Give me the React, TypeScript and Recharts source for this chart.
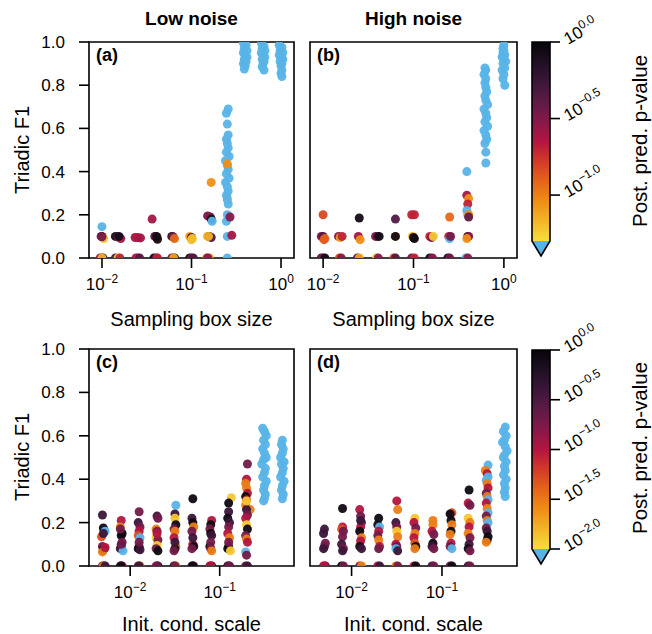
import { ReferenceArea, Scatter, ScatterChart, XAxis, YAxis } from 'recharts';

const FONT = '"Liberation Sans", Arial, Helvetica, sans-serif';
const BLUE = '#59b3e7';

// colour map from low p (t=0, yellow) to high p (t=1, black)
const CMAP: [number, string][] = [
  [0, '#f6df3c'],
  [0.1, '#f3b52a'],
  [0.2, '#ef8d15'],
  [0.3, '#e5641a'],
  [0.4, '#d23a27'],
  [0.5, '#b31540'],
  [0.6, '#87184a'],
  [0.7, '#5e1b46'],
  [0.8, '#3b1639'],
  [0.9, '#1f1023'],
  [1, '#060509'],
];

const TITLES = ['Low noise', 'High noise'];
const PANEL_LETTERS = ['(a)', '(b)', '(c)', '(d)'];
const Y_TICKS = [0, 0.2, 0.4, 0.6, 0.8, 1.0];
const BOX_TICKS = [0.01, 0.1, 1];
const INIT_TICKS = [0.01, 0.1];
const BOX_DOMAIN = [10 ** -2.145, 10 ** 0.145];
const INIT_DOMAIN = [10 ** -2.46, 10 ** -0.17];
// colour bar ranges, log10 p
const CB_TOP_TICKS = [0, -0.5, -1.0];
const CB_BOTTOM_TICKS = [0, -0.5, -1.0, -1.5, -2.0];
const CB_TOP_MIN = -1.3;
const CB_BOTTOM_MIN = -2;

// [log10 x, triadic F1, p-value]
const A_PTS: [number, number, number][] = [
  [-2.02, 0, 0.3], [-1.99, 0, 0.85], [-2.0, 0, 0.07],
  [-2.01, 0.1, 0.3], [-1.99, 0.095, 0.07], [-2.0, 0.1, 0.45], [-1.98, 0.09, 0.06], [-2.0, 0.098, 0.35],
  [-2.0, 0.145, 0.02],
  [-1.85, 0, 0.45], [-1.82, 0, 0.06], [-1.8, 0, 0.2],
  [-1.85, 0.1, 0.85], [-1.82, 0.097, 0.4], [-1.79, 0.09, 0.25], [-1.81, 0.1, 0.85],
  [-1.62, 0, 0.25], [-1.6, 0, 0.2], [-1.58, 0, 0.45],
  [-1.63, 0.095, 0.25], [-1.6, 0.095, 0.22], [-1.57, 0.093, 0.25],
  [-1.42, 0, 0.85], [-1.39, 0, 0.3], [-1.38, 0, 0.2],
  [-1.44, 0.18, 0.25],
  [-1.41, 0.1, 0.45], [-1.38, 0.095, 0.07], [-1.4, 0.1, 0.35], [-1.39, 0.1, 0.85], [-1.38, 0.087, 0.85],
  [-1.22, 0, 0.35], [-1.19, 0, 0.85], [-1.2, 0, 0.08],
  [-1.22, 0.1, 0.85], [-1.2, 0.095, 0.08], [-1.21, 0.1, 0.4], [-1.19, 0.09, 0.12],
  [-1.02, 0, 0.85], [-1.0, 0, 0.35], [-0.98, 0, 0.45],
  [-1.02, 0.1, 0.08], [-1.0, 0.095, 0.45], [-0.99, 0.09, 0.06], [-1.0, 0.085, 0.065],
  [-0.83, 0, 0.1], [-0.8, 0, 0.09], [-0.82, 0, 0.3],
  [-0.82, 0.1, 0.08], [-0.8, 0.1, 0.85], [-0.78, 0.095, 0.45], [-0.81, 0.1, 0.07],
  [-0.82, 0.195, 0.35], [-0.79, 0.19, 0.3], [-0.78, 0.18, 0.85], [-0.77, 0.17, 0.02],
  [-0.78, 0.35, 0.09],
  [-0.6, 0, 0.02], [-0.6, 0.1, 0.02], [-0.61, 0.17, 0.02], [-0.6, 0.2, 0.02], [-0.59, 0.25, 0.02],
  [-0.6, 0.28, 0.06], [-0.55, 0.105, 0.25], [-0.57, 0.19, 0.3],
  [-0.6, 0.27, 0.02], [-0.61, 0.29, 0.02], [-0.59, 0.31, 0.02], [-0.6, 0.33, 0.02], [-0.62, 0.35, 0.02],
  [-0.58, 0.37, 0.02], [-0.61, 0.39, 0.02], [-0.59, 0.41, 0.02], [-0.6, 0.43, 0.02], [-0.62, 0.45, 0.02],
  [-0.58, 0.47, 0.02], [-0.61, 0.49, 0.02], [-0.59, 0.51, 0.02], [-0.6, 0.53, 0.02], [-0.61, 0.55, 0.02],
  [-0.59, 0.57, 0.02], [-0.6, 0.62, 0.02], [-0.61, 0.67, 0.02], [-0.59, 0.69, 0.02],
  [-0.6, 0.435, 0.09],
  [-0.42, 0.995, 0.02], [-0.39, 0.985, 0.02], [-0.41, 0.97, 0.02], [-0.38, 0.96, 0.02], [-0.42, 0.95, 0.02],
  [-0.4, 0.94, 0.02], [-0.38, 0.93, 0.02], [-0.41, 0.92, 0.02], [-0.39, 0.91, 0.02], [-0.42, 0.9, 0.02],
  [-0.4, 0.89, 0.02], [-0.41, 0.875, 0.02],
  [-0.22, 0.995, 0.02], [-0.19, 0.98, 0.02], [-0.21, 0.97, 0.02], [-0.18, 0.96, 0.02], [-0.22, 0.95, 0.02],
  [-0.2, 0.94, 0.02], [-0.18, 0.93, 0.02], [-0.21, 0.92, 0.02], [-0.19, 0.91, 0.02], [-0.2, 0.9, 0.02],
  [-0.21, 0.885, 0.02], [-0.19, 0.87, 0.02],
  [-0.02, 0.985, 0.02], [0.01, 0.975, 0.02], [-0.01, 0.96, 0.02], [0.02, 0.95, 0.02], [-0.02, 0.94, 0.02],
  [0.0, 0.93, 0.02], [0.02, 0.92, 0.02], [-0.01, 0.91, 0.02], [0.01, 0.9, 0.02], [0.0, 0.89, 0.02],
  [0.01, 0.87, 0.02], [0.0, 0.855, 0.02], [0.01, 0.84, 0.02],
];

const B_PTS: [number, number, number][] = [
  [-2.02, 0, 0.45], [-2.0, 0, 0.3], [-1.98, 0, 0.85],
  [-2.0, 0.2, 0.15],
  [-2.02, 0.1, 0.3], [-2.0, 0.1, 0.45], [-1.98, 0.09, 0.12], [-1.99, 0.085, 0.13],
  [-1.82, 0, 0.13], [-1.8, 0, 0.3],
  [-1.83, 0.1, 0.3], [-1.81, 0.095, 0.08], [-1.79, 0.1, 0.2],
  [-1.62, 0, 0.45], [-1.6, 0, 0.08],
  [-1.6, 0.185, 0.85], [-1.61, 0.1, 0.25], [-1.59, 0.085, 0.09],
  [-1.41, 0, 0.06], [-1.39, 0, 0.3],
  [-1.42, 0.1, 0.3], [-1.4, 0.1, 0.45], [-1.38, 0.1, 0.85],
  [-1.22, 0, 0.13], [-1.2, 0, 0.45],
  [-1.2, 0.18, 0.45], [-1.2, 0.1, 0.07], [-1.2, 0.1, 0.85],
  [-1.02, 0, 0.35], [-0.99, 0, 0.2],
  [-1.02, 0.2, 0.2], [-0.99, 0.2, 0.2],
  [-1.01, 0.1, 0.07], [-1.0, 0.095, 0.85], [-0.99, 0.09, 0.85],
  [-0.82, 0, 0.85], [-0.79, 0, 0.3],
  [-0.82, 0.1, 0.2], [-0.8, 0.095, 0.3], [-0.78, 0.1, 0.06],
  [-0.62, 0, 0.85], [-0.6, 0, 0.35],
  [-0.6, 0.19, 0.12], [-0.61, 0.1, 0.2], [-0.6, 0.09, 0.02], [-0.59, 0.1, 0.35],
  [-0.42, 0, 0.02], [-0.4, 0, 0.3],
  [-0.4, 0.1, 0.85], [-0.39, 0.1, 0.3], [-0.41, 0.09, 0.09],
  [-0.41, 0.29, 0.25], [-0.39, 0.275, 0.09], [-0.4, 0.25, 0.2], [-0.41, 0.22, 0.02], [-0.4, 0.2, 0.02],
  [-0.39, 0.2, 0.09], [-0.39, 0.19, 0.4], [-0.41, 0.4, 0.02],
  [-0.2, 0.44, 0.02], [-0.2, 0.49, 0.02], [-0.21, 0.53, 0.02], [-0.19, 0.55, 0.02], [-0.2, 0.57, 0.02],
  [-0.22, 0.59, 0.02], [-0.18, 0.61, 0.02], [-0.21, 0.63, 0.02], [-0.19, 0.65, 0.02], [-0.2, 0.67, 0.02],
  [-0.22, 0.69, 0.02], [-0.18, 0.71, 0.02], [-0.2, 0.73, 0.02], [-0.21, 0.75, 0.02], [-0.19, 0.77, 0.02],
  [-0.2, 0.79, 0.02], [-0.21, 0.81, 0.02], [-0.2, 0.83, 0.02], [-0.22, 0.85, 0.02], [-0.2, 0.87, 0.02],
  [-0.21, 0.88, 0.02],
  [0.01, 0.8, 0.02], [-0.01, 0.83, 0.02], [0.0, 0.85, 0.02], [-0.02, 0.87, 0.02], [0.01, 0.88, 0.02],
  [-0.01, 0.9, 0.02], [0.02, 0.91, 0.02], [0.0, 0.92, 0.02], [-0.02, 0.93, 0.02], [0.01, 0.94, 0.02],
  [-0.01, 0.95, 0.02], [0.0, 0.96, 0.02], [-0.01, 0.97, 0.02], [0.0, 0.985, 0.02],
];

const C_PTS: [number, number, number][] = [
  [-2.31, 0, 0.2], [-2.29, 0, 0.85], [-2.3, 0, 0.03], [-2.28, 0, 0.4],
  [-2.31, 0.235, 0.4], [-2.3, 0.175, 0.85], [-2.28, 0.16, 0.005], [-2.32, 0.135, 0.05], [-2.3, 0.15, 0.4],
  [-2.31, 0.09, 0.2], [-2.29, 0.08, 0.4], [-2.3, 0.075, 0.85], [-2.31, 0.065, 0.03], [-2.28, 0.085, 0.1],
  [-2.11, 0, 0.4], [-2.09, 0, 0.1], [-2.1, 0, 0.85],
  [-2.1, 0.21, 0.1], [-2.11, 0.18, 0.03], [-2.09, 0.15, 0.85], [-2.1, 0.14, 0.85], [-2.11, 0.17, 0.2],
  [-2.09, 0.11, 0.2], [-2.1, 0.09, 0.85], [-2.11, 0.08, 0.4], [-2.08, 0.07, 0.005], [-2.1, 0.1, 0.2],
  [-1.91, 0, 0.2], [-1.89, 0, 0.03], [-1.9, 0, 0.4],
  [-1.9, 0.25, 0.2], [-1.91, 0.2, 0.4], [-1.89, 0.18, 0.2], [-1.9, 0.16, 0.1], [-1.91, 0.14, 0.05],
  [-1.89, 0.13, 0.005], [-1.9, 0.09, 0.2], [-1.91, 0.08, 0.85], [-1.89, 0.075, 0.4], [-1.9, 0.11, 0.2],
  [-1.71, 0, 0.1], [-1.69, 0, 0.85], [-1.7, 0, 0.2],
  [-1.7, 0.23, 0.4], [-1.69, 0.22, 0.2], [-1.71, 0.17, 0.03], [-1.7, 0.16, 0.2], [-1.71, 0.13, 0.013],
  [-1.69, 0.12, 0.2], [-1.7, 0.095, 0.013], [-1.71, 0.08, 0.2], [-1.69, 0.07, 0.85], [-1.7, 0.15, 0.1],
  [-1.51, 0, 0.85], [-1.49, 0, 0.03], [-1.5, 0, 0.2],
  [-1.49, 0.28, 0.005], [-1.5, 0.24, 0.4], [-1.5, 0.22, 0.013], [-1.49, 0.19, 0.85], [-1.51, 0.17, 0.2],
  [-1.5, 0.16, 0.03], [-1.51, 0.13, 0.1], [-1.49, 0.09, 0.03], [-1.5, 0.08, 0.85], [-1.51, 0.07, 0.2],
  [-1.5, 0.11, 0.4],
  [-1.31, 0, 0.4], [-1.29, 0, 0.2], [-1.3, 0, 0.85],
  [-1.3, 0.31, 0.85], [-1.31, 0.22, 0.4], [-1.3, 0.2, 0.85], [-1.29, 0.18, 0.03], [-1.31, 0.16, 0.2],
  [-1.3, 0.1, 0.1], [-1.29, 0.09, 0.85], [-1.31, 0.08, 0.2], [-1.3, 0.13, 0.4],
  [-1.11, 0, 0.2], [-1.09, 0, 0.85], [-1.1, 0, 0.1],
  [-1.09, 0.21, 0.1], [-1.1, 0.19, 0.85], [-1.11, 0.17, 0.2], [-1.1, 0.15, 0.85], [-1.09, 0.14, 0.4],
  [-1.11, 0.09, 0.85], [-1.1, 0.08, 0.2], [-1.09, 0.07, 0.03], [-1.1, 0.11, 0.2],
  [-0.91, 0, 0.85], [-0.89, 0, 0.4], [-0.9, 0, 0.2],
  [-0.87, 0.315, 0.013], [-0.9, 0.29, 0.85], [-0.9, 0.25, 0.4], [-0.91, 0.22, 0.85], [-0.89, 0.2, 0.4],
  [-0.9, 0.18, 0.2], [-0.91, 0.15, 0.1], [-0.89, 0.13, 0.03], [-0.9, 0.09, 0.4], [-0.91, 0.08, 0.85],
  [-0.88, 0.07, 0.013], [-0.9, 0.11, 0.2],
  [-0.71, 0, 0.2], [-0.69, 0, 0.4],
  [-0.69, 0.47, 0.2], [-0.7, 0.4, 0.1], [-0.71, 0.38, 0.03], [-0.7, 0.36, 0.03], [-0.69, 0.335, 0.1],
  [-0.71, 0.32, 0.85], [-0.7, 0.305, 0.1], [-0.71, 0.28, 0.03], [-0.66, 0.26, 0.03], [-0.7, 0.26, 0.4],
  [-0.69, 0.235, 0.2], [-0.71, 0.22, 0.1], [-0.7, 0.19, 0.013], [-0.69, 0.17, 0.85], [-0.71, 0.14, 0.2],
  [-0.7, 0.125, 0.03], [-0.69, 0.11, 0.1], [-0.71, 0.065, 0.005], [-0.7, 0.05, 0.2], [-0.7, 0.3, 0.013],
  [-0.52, 0.635, 0.005], [-0.5, 0.62, 0.005], [-0.48, 0.6, 0.005], [-0.51, 0.58, 0.005], [-0.49, 0.56, 0.005],
  [-0.52, 0.54, 0.005], [-0.5, 0.52, 0.005], [-0.48, 0.5, 0.005], [-0.51, 0.49, 0.005], [-0.53, 0.47, 0.005],
  [-0.49, 0.45, 0.005], [-0.5, 0.43, 0.005], [-0.52, 0.41, 0.005], [-0.48, 0.39, 0.005], [-0.5, 0.37, 0.005],
  [-0.51, 0.35, 0.005], [-0.49, 0.33, 0.005], [-0.5, 0.31, 0.005], [-0.51, 0.3, 0.005],
  [-0.3, 0.58, 0.005], [-0.31, 0.56, 0.005], [-0.29, 0.54, 0.005], [-0.3, 0.52, 0.005], [-0.32, 0.5, 0.005],
  [-0.28, 0.48, 0.005], [-0.31, 0.47, 0.005], [-0.29, 0.45, 0.005], [-0.3, 0.43, 0.005], [-0.32, 0.41, 0.005],
  [-0.28, 0.39, 0.005], [-0.3, 0.37, 0.005], [-0.31, 0.35, 0.005], [-0.29, 0.33, 0.005], [-0.3, 0.31, 0.005],
];

const D_PTS: [number, number, number][] = [
  [-2.31, 0, 0.2], [-2.29, 0, 0.4], [-2.3, 0, 0.1],
  [-2.3, 0.17, 0.4], [-2.31, 0.15, 0.4], [-2.29, 0.105, 0.2], [-2.3, 0.09, 0.2], [-2.31, 0.08, 0.4],
  [-2.11, 0, 0.85], [-2.09, 0, 0.2],
  [-2.1, 0.265, 0.85], [-2.1, 0.18, 0.1], [-2.11, 0.17, 0.05], [-2.09, 0.16, 0.2], [-2.1, 0.135, 0.2],
  [-2.11, 0.1, 0.4], [-2.09, 0.08, 0.2], [-2.1, 0.07, 0.4],
  [-1.91, 0, 0.2], [-1.89, 0, 0.03],
  [-1.91, 0.26, 0.1], [-1.9, 0.23, 0.2], [-1.89, 0.2, 0.2], [-1.9, 0.18, 0.1], [-1.91, 0.16, 0.85],
  [-1.89, 0.13, 0.03], [-1.9, 0.115, 0.1], [-1.91, 0.09, 0.85], [-1.89, 0.08, 0.4], [-1.9, 0.21, 0.4],
  [-1.71, 0, 0.1], [-1.69, 0, 0.4],
  [-1.7, 0.22, 0.85], [-1.71, 0.19, 0.85], [-1.69, 0.18, 0.005], [-1.7, 0.16, 0.1], [-1.71, 0.14, 0.2],
  [-1.7, 0.12, 0.03], [-1.69, 0.09, 0.1], [-1.7, 0.08, 0.2],
  [-1.51, 0, 0.03], [-1.49, 0, 0.2],
  [-1.5, 0.3, 0.1], [-1.49, 0.26, 0.03], [-1.51, 0.2, 0.4], [-1.5, 0.18, 0.2], [-1.5, 0.16, 0.013],
  [-1.49, 0.135, 0.03], [-1.51, 0.1, 0.1], [-1.5, 0.09, 0.2], [-1.51, 0.08, 0.005], [-1.49, 0.07, 0.4],
  [-1.31, 0, 0.1], [-1.29, 0, 0.85],
  [-1.3, 0.22, 0.013], [-1.31, 0.2, 0.1], [-1.29, 0.175, 0.2], [-1.3, 0.15, 0.03], [-1.31, 0.13, 0.1],
  [-1.3, 0.105, 0.05], [-1.29, 0.09, 0.85], [-1.3, 0.08, 0.03],
  [-1.11, 0, 0.4], [-1.09, 0, 0.2],
  [-1.1, 0.21, 0.03], [-1.1, 0.19, 0.03], [-1.11, 0.16, 0.1], [-1.09, 0.145, 0.2], [-1.1, 0.105, 0.85],
  [-1.11, 0.09, 0.4], [-1.09, 0.08, 0.2],
  [-0.91, 0, 0.2], [-0.89, 0, 0.85],
  [-0.89, 0.245, 0.05], [-0.91, 0.24, 0.85], [-0.9, 0.21, 0.85], [-0.89, 0.19, 0.03], [-0.9, 0.16, 0.85],
  [-0.91, 0.145, 0.03], [-0.9, 0.105, 0.1], [-0.91, 0.09, 0.2], [-0.89, 0.08, 0.005],
  [-0.71, 0, 0.4], [-0.69, 0, 0.2],
  [-0.7, 0.35, 0.85], [-0.71, 0.29, 0.1], [-0.69, 0.28, 0.2], [-0.71, 0.22, 0.013], [-0.69, 0.2, 0.03],
  [-0.7, 0.18, 0.1], [-0.71, 0.15, 0.03], [-0.69, 0.13, 0.2], [-0.7, 0.1, 0.4], [-0.71, 0.08, 0.85],
  [-0.69, 0.07, 0.2],
  [-0.49, 0.465, 0.005], [-0.52, 0.44, 0.03], [-0.5, 0.425, 0.1], [-0.49, 0.41, 0.005], [-0.51, 0.395, 0.005],
  [-0.5, 0.38, 0.03], [-0.49, 0.36, 0.1], [-0.51, 0.335, 0.2], [-0.5, 0.32, 0.03], [-0.49, 0.305, 0.005],
  [-0.51, 0.29, 0.1], [-0.5, 0.265, 0.03], [-0.49, 0.245, 0.005], [-0.51, 0.23, 0.2], [-0.5, 0.21, 0.03],
  [-0.49, 0.2, 0.005], [-0.51, 0.175, 0.2], [-0.5, 0.16, 0.4], [-0.49, 0.135, 0.85], [-0.5, 0.12, 0.85],
  [-0.51, 0.11, 0.03],
  [-0.3, 0.64, 0.005], [-0.32, 0.62, 0.005], [-0.29, 0.6, 0.005], [-0.31, 0.58, 0.005], [-0.33, 0.57, 0.005],
  [-0.3, 0.55, 0.005], [-0.28, 0.53, 0.005], [-0.31, 0.51, 0.005], [-0.32, 0.5, 0.005], [-0.29, 0.48, 0.005],
  [-0.31, 0.46, 0.005], [-0.3, 0.44, 0.005], [-0.32, 0.42, 0.005], [-0.29, 0.4, 0.005], [-0.31, 0.38, 0.005],
  [-0.3, 0.36, 0.005], [-0.31, 0.34, 0.005], [-0.3, 0.32, 0.005],
];

const hexRgb = (h: string) => {
  const n = parseInt(h.slice(1), 16);
  return [(n >> 16) & 255, (n >> 8) & 255, n & 255];
};

const cmap = (t: number) => {
  const v = Math.max(0, Math.min(1, t));
  let i = 0;
  while (i < CMAP.length - 2 && v > CMAP[i + 1][0]) i++;
  const [t0, c0] = CMAP[i];
  const [t1, c1] = CMAP[i + 1];
  const f = (v - t0) / (t1 - t0);
  const a = hexRgb(c0);
  const b = hexRgb(c1);
  const m = a.map((x, k) => Math.round(x + (b[k] - x) * f));
  return `rgb(${m[0]},${m[1]},${m[2]})`;
};

const pointColor = (p: number, vmin: number) => {
  const lp = Math.log10(p);
  if (lp < vmin) return BLUE;
  return cmap((lp - vmin) / (0 - vmin));
};

const toRows = (pts: [number, number, number][], vmin: number) =>
  pts.map(([lx, y, p]) => ({ x: 10 ** lx, y, color: pointColor(p, vmin) }));

const renderDot = (props: any) => (
  <circle cx={props.cx} cy={props.cy} r={4.5} fill={props.payload.color} fillOpacity={0.95} />
);

const LogTick = (props: any) => {
  const { x, y, payload } = props;
  const e = Math.round(Math.log10(payload.value));
  return (
    <text x={x} y={y + 20} textAnchor="middle" fontSize={17} fontFamily={FONT} fill="#000">
      10
      <tspan dy={-7} fontSize={12}>
        {e < 0 ? `\u2212${-e}` : `${e}`}
      </tspan>
    </text>
  );
};

const tickLine = { stroke: '#000', strokeWidth: 1.6 };

interface PanelProps {
  rows: { x: number; y: number; color: string }[];
  left: number;
  top: number;
  height: number;
  domain: number[];
  ticks: number[];
  showY: boolean;
}

const Panel = ({ rows, left, top, height, domain, ticks, showY }: PanelProps) => (
  <div style={{ position: 'absolute', left, top }}>
    <ScatterChart
      width={showY ? 300 : 220}
      height={height}
      margin={{ top: 42, right: showY ? 6 : 3, bottom: 0, left: showY ? 0 : 10 }}
    >
      <XAxis
        dataKey="x"
        type="number"
        scale="log"
        domain={domain}
        allowDataOverflow
        ticks={ticks}
        interval={0}
        tick={<LogTick />}
        tickSize={10}
        axisLine={false}
        tickLine={tickLine}
        height={72}
      />
      <YAxis
        dataKey="y"
        type="number"
        domain={[0, 1]}
        allowDataOverflow
        ticks={Y_TICKS}
        interval={0}
        hide={!showY}
        width={89}
        tickSize={10}
        tickMargin={14}
        tickFormatter={(v: number) => v.toFixed(1)}
        tick={{ fill: '#000', fontSize: 17, fontFamily: FONT }}
        axisLine={false}
        tickLine={tickLine}
      />
      <Scatter data={rows} isAnimationActive={false} shape={renderDot} />
      <ReferenceArea
        x1={domain[0]}
        x2={domain[1]}
        y1={0}
        y2={1}
        fill="none"
        stroke="#000"
        strokeWidth={1.6}
        ifOverflow="visible"
      />
    </ScatterChart>
  </div>
);

const ColorBar = ({ id, top, bottom, vmin, ticks }: { id: string; top: number; bottom: number; vmin: number; ticks: number[] }) => {
  const x = 532;
  const w = 18;
  const h = bottom - top;
  const stops = [...CMAP].reverse();
  return (
    <g>
      <defs>
        <linearGradient id={id} x1="0" y1="0" x2="0" y2="1">
          {stops.map(([t, c]) => (
            <stop key={t} offset={1 - t} stopColor={c} />
          ))}
        </linearGradient>
      </defs>
      <rect x={x} y={top} width={w} height={h} fill={`url(#${id})`} />
      <polygon points={`${x},${bottom} ${x + w},${bottom} ${x + w / 2},${bottom + 15}`} fill={BLUE} />
      <path
        d={`M${x},${top} L${x + w},${top} L${x + w},${bottom} L${x + w / 2},${bottom + 15} L${x},${bottom} Z`}
        fill="none"
        stroke="#000"
        strokeWidth={1.6}
      />
      {ticks.map((t) => {
        const ty = top + (t / vmin) * h;
        const lab = t === 0 ? '0.0' : `\u2212${(-t).toFixed(1)}`;
        const lx = x + w + 18;
        const ly = ty + 3;
        return (
          <g key={t}>
            <line x1={x + w} x2={x + w + 10} y1={ty} y2={ty} stroke="#000" strokeWidth={1.6} />
            <text x={lx} y={ly} transform={`rotate(-30, ${lx}, ${ly})`} fontSize={17} fontFamily={FONT} fill="#000">
              10
              <tspan dy={-7} fontSize={12}>
                {lab}
              </tspan>
            </text>
          </g>
        );
      })}
    </g>
  );
};

const App = () => {
  const aRows = toRows(A_PTS, CB_TOP_MIN);
  const bRows = toRows(B_PTS, CB_TOP_MIN);
  const cRows = toRows(C_PTS, CB_BOTTOM_MIN);
  const dRows = toRows(D_PTS, CB_BOTTOM_MIN);
  return (
    <div style={{ position: 'absolute', left: 0, top: 0, width: 652, height: 634, background: '#fff', fontFamily: FONT }}>
      <Panel rows={aRows} left={0} top={0} height={330} domain={BOX_DOMAIN} ticks={BOX_TICKS} showY />
      <Panel rows={bRows} left={300} top={0} height={330} domain={BOX_DOMAIN} ticks={BOX_TICKS} showY={false} />
      <Panel rows={cRows} left={0} top={307} height={331} domain={INIT_DOMAIN} ticks={INIT_TICKS} showY />
      <Panel rows={dRows} left={300} top={307} height={331} domain={INIT_DOMAIN} ticks={INIT_TICKS} showY={false} />
      <svg
        width={652}
        height={634}
        style={{ position: 'absolute', left: 0, top: 0, pointerEvents: 'none' }}
        fontFamily={FONT}
      >
        <text x={191.5} y={25} textAnchor="middle" fontSize={19} fontWeight="bold">{TITLES[0]}</text>
        <text x={413.5} y={25} textAnchor="middle" fontSize={19} fontWeight="bold">{TITLES[1]}</text>
        <text x={96} y={61} fontSize={18} fontWeight="bold">{PANEL_LETTERS[0]}</text>
        <text x={317} y={61} fontSize={18} fontWeight="bold">{PANEL_LETTERS[1]}</text>
        <text x={96} y={368} fontSize={18} fontWeight="bold">{PANEL_LETTERS[2]}</text>
        <text x={317} y={368} fontSize={18} fontWeight="bold">{PANEL_LETTERS[3]}</text>
        <text transform="translate(29,150) rotate(-90)" textAnchor="middle" fontSize={20}>Triadic F1</text>
        <text transform="translate(29,457) rotate(-90)" textAnchor="middle" fontSize={20}>Triadic F1</text>
        <text x={191.5} y={326} textAnchor="middle" fontSize={20}>Sampling box size</text>
        <text x={413.5} y={326} textAnchor="middle" fontSize={20}>Sampling box size</text>
        <text x={191.5} y={631} textAnchor="middle" fontSize={20}>Init. cond. scale</text>
        <text x={413.5} y={631} textAnchor="middle" fontSize={20}>Init. cond. scale</text>
        <ColorBar id="cbTop" top={42} bottom={241} vmin={CB_TOP_MIN} ticks={CB_TOP_TICKS} />
        <ColorBar id="cbBottom" top={350} bottom={549} vmin={CB_BOTTOM_MIN} ticks={CB_BOTTOM_TICKS} />
        <text transform="translate(647,141) rotate(-90)" textAnchor="middle" fontSize={20.5}>Post. pred. p-value</text>
        <text transform="translate(647,448) rotate(-90)" textAnchor="middle" fontSize={20.5}>Post. pred. p-value</text>
      </svg>
    </div>
  );
};

export default App;
